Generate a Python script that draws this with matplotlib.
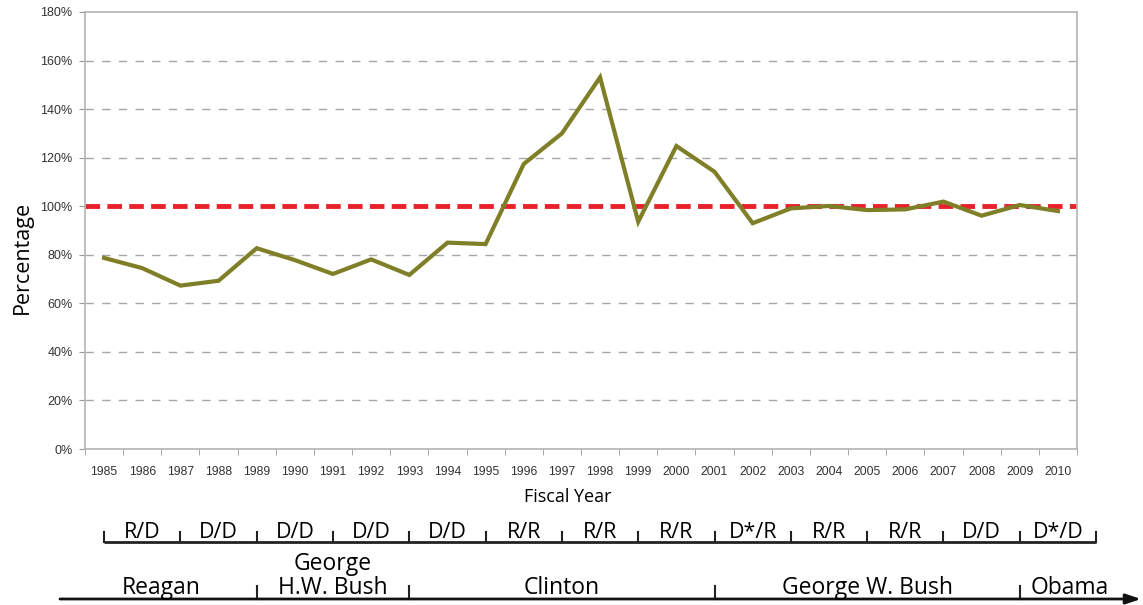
import matplotlib.pyplot as plt
import matplotlib.transforms as mtransforms
import numpy as np

# Data
years = list(range(1985, 2011))
percent = [78.7, 74.5, 67.3, 69.3, 82.7, 77.8, 72.1, 78.1, 71.7, 85.0,
           84.4, 117.4, 130.0, 153.1, 93.6, 124.8, 114.2, 93.0, 99.1, 100.1,
           98.4, 98.7, 101.9, 96.1, 100.5, 98.0]

# congress (Senate/House) per two-year span, starting in 1985
congress = ['R/D', 'D/D', 'D/D', 'D/D', 'D/D', 'R/R', 'R/R',
            'R/R', 'D*/R', 'R/R', 'R/R', 'D/D', 'D*/D']
congress_start = 1985

presidents = ['Reagan', 'George\nH.W. Bush', 'Clinton', 'George W. Bush', 'Obama']
president_label_x = [1986.5, 1991, 1997, 2005, 2010.3]
president_breaks = [1989, 1993, 2001, 2009]

olive = '#7f7f27'
red = '#e8212b'
label_font = ['Open Sans', 'DejaVu Sans']
tick_font = ['Liberation Sans', 'DejaVu Sans']

fig = plt.figure(figsize=(11.43, 6.05), dpi=100)
ax = fig.add_axes([85 / 1143, 1 - 449 / 605, 992 / 1143, 437 / 605])

ax.plot(years, percent, color=olive, lw=3, solid_joinstyle='miter', zorder=3)
ax.axhline(100, color=red, lw=3.5, ls=(0, (3, 1.5)), zorder=2)

ax.set_xlim(1984.5, 2010.5)
ax.set_ylim(0, 180)
ax.set_yticks(np.arange(0, 181, 20))
ax.set_yticklabels([f'{v}%' for v in range(0, 181, 20)], family=tick_font, fontsize=9, color='#333333')
ax.set_xticks(years)
ax.set_xticklabels([str(y) for y in years], family=tick_font, fontsize=8.7, color='#333333')
ax.set_xticks(np.arange(1984.5, 2011, 1), minor=True)
ax.tick_params(axis='x', which='major', length=0, pad=12)
ax.tick_params(axis='x', which='minor', length=4, color='#999999')
ax.tick_params(axis='y', length=4, color='#999999', pad=5)

for v in range(20, 181, 20):
    if v in (100, 180):
        continue
    ax.axhline(v, color='#a6a6a6', lw=1, ls=(0, (6, 6)), zorder=1)

for s in ax.spines.values():
    s.set_color('#b3b3b3')
    s.set_linewidth(1.2)

def fy(px):
    return 1 - px / 605

fig.text(22 / 1143, fy(257), 'Percentage', rotation=90, ha='center', va='center',
         family=label_font, fontsize=15.5)
fig.text(568 / 1143, fy(502), 'Fiscal Year', ha='center', va='baseline',
         family=label_font, fontsize=13)

# annotation rows below the chart
trans = mtransforms.blended_transform_factory(ax.transData, fig.transFigure)

# congress row
cong_y = fy(542)
cong_end = congress_start + 2 * len(congress)
ax.plot([congress_start, cong_end], [cong_y, cong_y], color='#222222', lw=2,
        transform=trans, clip_on=False, solid_capstyle='butt')
for i in range(len(congress) + 1):
    x = congress_start + 2 * i
    ax.plot([x, x], [cong_y, fy(532)], color='#222222', lw=1.5,
            transform=trans, clip_on=False)
for i, lab in enumerate(congress):
    ax.text(congress_start + 2 * i + 1, fy(538), lab, transform=trans,
            ha='center', va='baseline', family=label_font, fontsize=15.5)

# presidents row
pres_y = fy(599)
ax.annotate('', xy=(1141 / 1143, pres_y), xytext=(60 / 1143, pres_y),
            xycoords='figure fraction', textcoords='figure fraction',
            arrowprops=dict(arrowstyle='-|>,head_length=0.9,head_width=0.3',
                            color='#111111', lw=2, shrinkA=0, shrinkB=0))
for x in president_breaks:
    ax.plot([x, x], [pres_y, fy(586)], color='#222222', lw=1.5,
            transform=trans, clip_on=False)
for x, lab in zip(president_label_x, presidents):
    ax.text(x, fy(594), lab, transform=trans, ha='center', va='baseline',
            family=label_font, fontsize=16.5, linespacing=1.0)

fig.savefig('out.png', dpi=100)
